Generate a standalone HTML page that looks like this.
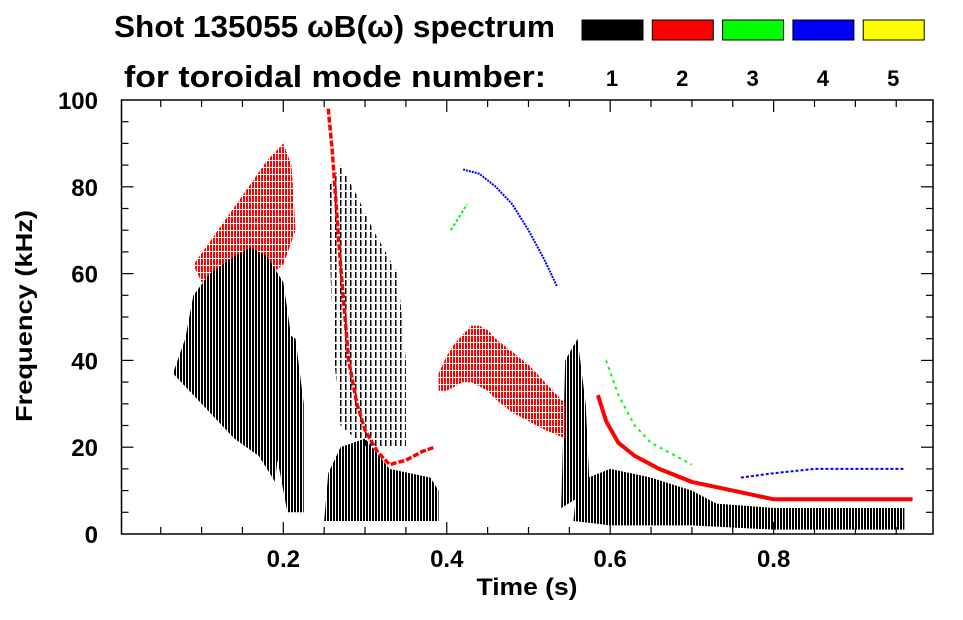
<!DOCTYPE html>
<html><head><meta charset="utf-8"><style>
body{margin:0;background:#fff;}
svg text{font-family:"Liberation Sans",Arial,sans-serif;font-weight:bold;}
</style></head><body>
<svg id="chart" width="963" height="615" viewBox="0 0 963 615" xmlns="http://www.w3.org/2000/svg">
<defs>
<pattern id="stripesK" width="3" height="6" patternUnits="userSpaceOnUse"><rect width="2" height="6" fill="#000"/></pattern>
<pattern id="stripesKs" width="5" height="8" patternUnits="userSpaceOnUse"><rect width="1.5" height="6" fill="#000"/></pattern>
<pattern id="stripesR" width="3" height="7" patternUnits="userSpaceOnUse"><rect width="2" height="6" fill="#f00"/></pattern>
</defs>
<text x="114" y="37" font-size="31" textLength="441" lengthAdjust="spacingAndGlyphs">Shot 135055 ωB(ω) spectrum</text>
<text x="124" y="87" font-size="31" textLength="422" lengthAdjust="spacingAndGlyphs">for toroidal mode number:</text>
<g id="legend"></g>
<g id="marks"></g>
<g id="axes"></g>
<text x="527" y="595" font-size="24" text-anchor="middle" textLength="101" lengthAdjust="spacingAndGlyphs">Time (s)</text>
<text transform="translate(32,316) rotate(-90)" font-size="23" text-anchor="middle" textLength="212" lengthAdjust="spacingAndGlyphs">Frequency (kHz)</text>
</svg>
<script>
const modeLabels=["1","2","3","4","5"];
const modeColors=["#000000","#ff0000","#00ff00","#0000ff","#ffff00"];
const xTicks=[0.2,0.4,0.6,0.8];
const yTicks=[0,20,40,60,80,100];
// black regions (mode 1), [t,f] polygons
const blackMain=[[0.065,37],[0.08,45],[0.09,55],[0.11,60],[0.14,64],[0.16,66],[0.18,64],[0.2,58],[0.21,45],[0.2,30],[0.19,12],[0.17,18],[0.14,22],[0.12,26],[0.1,30],[0.08,34]];
const black2=[[0.19,48],[0.215,45],[0.225,30],[0.225,5],[0.205,5],[0.19,20]];
const blackLow1=[[0.25,3],[0.255,14],[0.27,20],[0.3,22],[0.33,15],[0.38,13],[0.39,10],[0.39,3]];
const blackUpper=[[0.255,80],[0.27,85],[0.29,78],[0.31,70],[0.34,60],[0.35,40],[0.35,20],[0.3,20],[0.27,25],[0.26,45]];
const blackLow2=[[0.555,3],[0.56,12],[0.6,15],[0.65,13],[0.7,10],[0.73,7],[0.8,6],[0.9,6],[0.96,6],[0.96,1],[0.8,1],[0.7,2],[0.6,2]];
const black3=[[0.54,6],[0.545,40],[0.56,45],[0.57,30],[0.575,10]];
const blackPolys=[blackMain,black2,blackLow1,black3,blackLow2];
const blackSparse=[blackUpper];
// red regions (mode 2)
const redPoly1=[[0.09,62],[0.12,70],[0.15,78],[0.18,86],[0.2,90],[0.21,85],[0.215,70],[0.2,62],[0.17,58],[0.13,60],[0.1,58]];
const redCurveT=[0.255,0.26,0.27,0.28,0.29,0.3,0.315,0.33,0.35,0.37,0.385];
const redCurveF=[98,88,62,40,30,24,19,16,17,19,20];
const redHumpT=[0.39,0.4,0.41,0.42,0.43,0.44,0.45,0.46,0.48,0.5,0.52,0.545];
const redHumpTop=[37,41,44,46,48,48,47,45,42,39,35,30];
const redHumpBot=[33,33,34,35,35,34,33,31,28,26,24,22];
const redDecayT=[0.585,0.595,0.61,0.63,0.66,0.7,0.75,0.8,0.85,0.9,0.97];
const redDecayF=[32,26,21,18,15,12,10,8,8,8,8];
// green (mode 3)
const greenT=[0.405,0.415,0.425];
const greenF=[70,73,76];
const green2T=[0.595,0.61,0.63,0.65,0.7];
const green2F=[40,32,25,21,16];
// blue (mode 4)
const blueT=[0.42,0.44,0.46,0.48,0.5,0.52,0.535];
const blueF=[84,83,80,76,70,63,57];
const blue2T=[0.76,0.8,0.85,0.9,0.96];
const blue2F=[13,14,15,15,15];

const NS="http://www.w3.org/2000/svg";
const X0=121.5,Y0=534,YT=100,XR=933;
const tMin=0.002,tMax=0.995;
function xs(t){return X0+(t-tMin)/(tMax-tMin)*(XR-X0);}
function ys(f){return Y0-f/100*(Y0-YT);}
function mk(tag,attrs,parent){const e=document.createElementNS(NS,tag);for(const k in attrs)e.setAttribute(k,attrs[k]);parent.appendChild(e);return e;}
const leg=document.getElementById('legend'),marks=document.getElementById('marks'),axes=document.getElementById('axes');
modeLabels.forEach((l,i)=>{
  const x=582+i*70.3;
  const r=mk('rect',{x:x,y:20,width:61,height:20,fill:modeColors[i],stroke:'#000','stroke-width':1},leg);
  
  
  const t=mk('text',{x:x+30,y:86,'font-size':22,'text-anchor':'middle'},leg);t.textContent=l;
  
  
});
function poly(pts,fill,name){const p=mk('polygon',{points:pts.map(p=>xs(p[0])+','+ys(p[1])).join(' '),fill:fill},marks);
  
  return p;}
function line(T,F,color,w,name,dash){const p=mk('polyline',{points:T.map((t,i)=>xs(t)+','+ys(F[i])).join(' '),fill:'none',stroke:color,'stroke-width':w,'stroke-dasharray':dash||'none'},marks);
  
  }
blackSparse.forEach((p,i)=>poly(p,'url(#stripesKs)','mode1-sparse-region-'+i));
poly(redPoly1,'url(#stripesR)','mode2-early-region');
blackPolys.forEach((p,i)=>poly(p,'url(#stripesK)','mode1-region-'+i));
line(redCurveT,redCurveF,'#f00',3.5,'mode2-chirp','6 2');
const hump=redHumpT.map((t,i)=>[t,redHumpTop[i]]).concat(redHumpT.map((t,i)=>[t,redHumpBot[i]]).reverse());
poly(hump,'url(#stripesR)','mode2-hump');
line(redDecayT,redDecayF,'#f00',4,'mode2-decay');
line(greenT,greenF,'#0f0',2,'mode3-segment','3 2');
line(green2T,green2F,'#0f0',2,'mode3-decay','3 4');
line(blueT,blueF,'#00f',2,'mode4-segment','2 1');
line(blue2T,blue2F,'#00f',2,'mode4-low','3 2');
// frame
const fr=mk('rect',{x:X0,y:YT,width:XR-X0,height:Y0-YT,fill:'none',stroke:'#000','stroke-width':1.5},axes);


for(let t=0.05;t<tMax;t+=0.05){const x=xs(t);const major=Math.abs(t/0.2-Math.round(t/0.2))<1e-6;const L=major?12:7;
  mk('line',{x1:x,x2:x,y1:Y0,y2:Y0-L,stroke:'#000','stroke-width':1.2},axes);
  mk('line',{x1:x,x2:x,y1:YT,y2:YT+L,stroke:'#000','stroke-width':1.2},axes);}
for(let f=5;f<100;f+=5){const y=ys(f);const major=f%20===0;const L=major?12:7;
  mk('line',{x1:X0,x2:X0+L,y1:y,y2:y,stroke:'#000','stroke-width':1.2},axes);
  mk('line',{x1:XR,x2:XR-L,y1:y,y2:y,stroke:'#000','stroke-width':1.2},axes);}
xTicks.forEach(t=>{const e=mk('text',{x:xs(t),y:567,'font-size':24,'text-anchor':'middle'},axes);e.textContent=t.toFixed(1);
  
  });
yTicks.forEach(f=>{const e=mk('text',{x:98,y:ys(f)+9,'font-size':24,'text-anchor':'end'},axes);e.textContent=f;
  
  });
</script>
</body></html>
